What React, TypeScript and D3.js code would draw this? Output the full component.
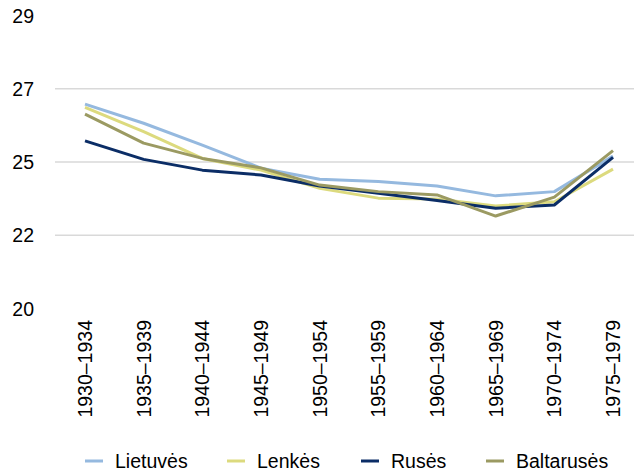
import React, { useRef, useEffect } from "react";
import * as d3 from "d3";

const periods = [
  "1930–1934",
  "1935–1939",
  "1940–1944",
  "1945–1949",
  "1950–1954",
  "1955–1959",
  "1960–1964",
  "1965–1969",
  "1970–1974",
  "1975–1979",
];

const lietuves = [26.28, 25.69, 25.02, 24.31, 23.97, 23.9, 23.76, 23.46, 23.59, 24.68];
const lenkes = [26.18, 25.43, 24.61, 24.25, 23.69, 23.39, 23.36, 23.15, 23.28, 24.28];
const ruses = [25.15, 24.58, 24.25, 24.1, 23.76, 23.54, 23.32, 23.08, 23.18, 24.64];
const baltaruses = [25.97, 25.08, 24.61, 24.32, 23.79, 23.59, 23.49, 22.84, 23.42, 24.85];

const yTicks = [20, 22.25, 24.5, 26.75, 29];

const series = [
  { name: "Lietuvės", values: lietuves, color: "#95b9df" },
  { name: "Lenkės", values: lenkes, color: "#dcda7e" },
  { name: "Rusės", values: ruses, color: "#0b2d66" },
  { name: "Baltarusės", values: baltaruses, color: "#9b9a62" },
];

const legendX = [85, 227, 361, 486];

const width = 634;
const height = 475;

const App: React.FC = () => {
  const ref = useRef<SVGSVGElement | null>(null);

  useEffect(() => {
    const svg = d3.select(ref.current);
    svg.selectAll("*").remove();
    svg.attr("width", width).attr("height", height);

    const font = "'Liberation Sans', Arial, sans-serif";
    const fontSize = "19.5px";

    const x = d3.scalePoint<string>().domain(periods).range([85, 613]);
    const y = d3.scaleLinear().domain([20, 29]).range([308.5, 15.5]);

    // grid
    svg
      .append("g")
      .selectAll("line")
      .data(yTicks.filter((t) => t > 20 && t < 29))
      .enter()
      .append("line")
      .attr("x1", 55)
      .attr("x2", width)
      .attr("y1", (d) => y(d))
      .attr("y2", (d) => y(d))
      .style("stroke", "#d9d9d9")
      .style("stroke-width", 1.5);

    // y labels
    svg
      .append("g")
      .selectAll("text")
      .data(yTicks)
      .enter()
      .append("text")
      .attr("x", 34)
      .attr("y", (d) => y(d))
      .attr("dy", "0.36em")
      .attr("text-anchor", "end")
      .style("font-family", font)
      .style("font-size", fontSize)
      .style("fill", "#000")
      .text((d) => String(Math.round(d)));

    // x labels
    svg
      .append("g")
      .selectAll("text")
      .data(periods)
      .enter()
      .append("text")
      .attr("transform", (d) => `translate(${x(d)}, 320) rotate(-90)`)
      .attr("dy", "0.36em")
      .attr("text-anchor", "end")
      .style("font-family", font)
      .style("font-size", fontSize)
      .style("fill", "#000")
      .text((d) => d);

    const line = d3
      .line<number>()
      .x((_, i) => x(periods[i]) as number)
      .y((d) => y(d));

    svg
      .append("g")
      .selectAll("path")
      .data(series)
      .enter()
      .append("path")
      .attr("d", (d) => line(d.values))
      .style("fill", "none")
      .style("stroke", (d) => d.color)
      .style("stroke-width", 3)
      .style("stroke-linejoin", "round");

    // legend
    const lg = svg
      .append("g")
      .selectAll("g")
      .data(series)
      .enter()
      .append("g")
      .attr("transform", (_, i) => `translate(${legendX[i]}, 461)`);

    lg.append("line")
      .attr("x1", 0)
      .attr("x2", 18)
      .style("stroke", (d) => d.color)
      .style("stroke-width", 3);

    lg.append("text")
      .attr("x", 30)
      .attr("dy", "0.36em")
      .style("font-family", font)
      .style("font-size", fontSize)
      .style("fill", "#000")
      .text((d) => d.name);
  }, []);

  return <svg ref={ref} style={{ display: "block", position: "absolute", left: 0, top: 0 }} />;
};

export default App;
